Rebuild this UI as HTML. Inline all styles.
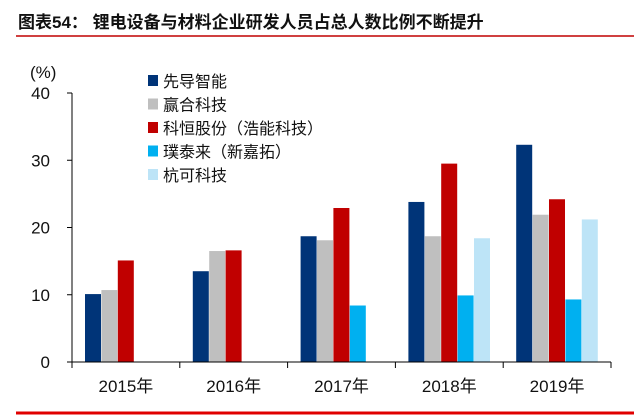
<!DOCTYPE html>
<html><head><meta charset="utf-8"><style>
body{margin:0;background:#fff;width:640px;height:419px;overflow:hidden}
svg{display:block;font-family:"Liberation Sans","Noto Sans CJK SC",sans-serif}
</style></head><body>
<svg id="c" width="640" height="419">
<text x="18" y="28" font-size="17" font-weight="bold" fill="#111">图表54：  锂电设备与材料企业研发人员占总人数比例不断提升</text>
<line x1="16" y1="36" x2="634" y2="36" stroke="#c00000" stroke-width="1.5"/>
<line x1="16" y1="413" x2="634" y2="413" stroke="#e00000" stroke-width="3"/>
<text x="30" y="78" font-size="17" fill="#111">(%)</text>
<g id="plot"></g>
</svg>
<script>
const categories=["2015年","2016年","2017年","2018年","2019年"];
const seriesNames=["先导智能","赢合科技","科恒股份（浩能科技）","璞泰来（新嘉拓）","杭可科技"];
const s0=[10.1,13.5,18.7,23.8,32.3];
const s1=[10.7,16.5,18.1,18.7,21.9];
const s2=[15.1,16.6,22.9,29.5,24.2];
const s3=[null,null,8.4,9.9,9.3];
const s4=[null,null,null,18.4,21.2];
const yTicks=[0,10,20,30,40];
const colors=["#003478","#bfbfbf","#c00000","#00b0f0","#bde4f7"];
const series=[s0,s1,s2,s3,s4];
const NS="http://www.w3.org/2000/svg";
const g=document.getElementById('plot');
const x0=72,x1=611,y0=362,y40=93;
const yS=v=>y0-(v/40)*(y0-y40);
const cw=(x1-x0)/categories.length;
function mk(t,a,p){const e=document.createElementNS(NS,t);for(const k in a)e.setAttribute(k,a[k]);(p||g).appendChild(e);return e;}
yTicks.forEach(v=>{
 const l=mk('line',{x1:x0-5,x2:x0,y1:yS(v),y2:yS(v),stroke:'#000'});
 
 
 const t=mk('text',{x:x0-22,y:yS(v)+6,'font-size':17,'text-anchor':'end',fill:'#111'});
 t.textContent=v;
 
 
});
series.forEach((s,si)=>{
 s.forEach((v,ci)=>{
  if(v==null)return;
  const bx=x0+ci*cw+13+si*16.4;
  const r=mk('rect',{x:bx,y:yS(v),width:16,height:y0-yS(v),fill:colors[si]});
  
  
 });
});
const ya=mk('line',{x1:x0,x2:x0,y1:y40,y2:y0,stroke:'#000'});


const xa=mk('line',{x1:x0,x2:x1,y1:y0,y2:y0,stroke:'#000'});


for(let i=0;i<=categories.length;i++){
 const l=mk('line',{x1:x0+i*cw,x2:x0+i*cw,y1:y0,y2:y0+6,stroke:'#000'});
 
 
}
categories.forEach((c,i)=>{
 const t=mk('text',{x:x0+(i+0.5)*cw,y:392,'font-size':17,'text-anchor':'middle',fill:'#111'});
 t.textContent=c;
 
 
});
seriesNames.forEach((n,i)=>{
 const y=81+i*23.5;
 const r=mk('rect',{x:148,y:y-6,width:10,height:11,fill:colors[i]});
 
 
 const t=mk('text',{x:163,y:y+6,'font-size':16,fill:'#111'});
 t.textContent=n;
 
 
});
</script>
</body></html>
